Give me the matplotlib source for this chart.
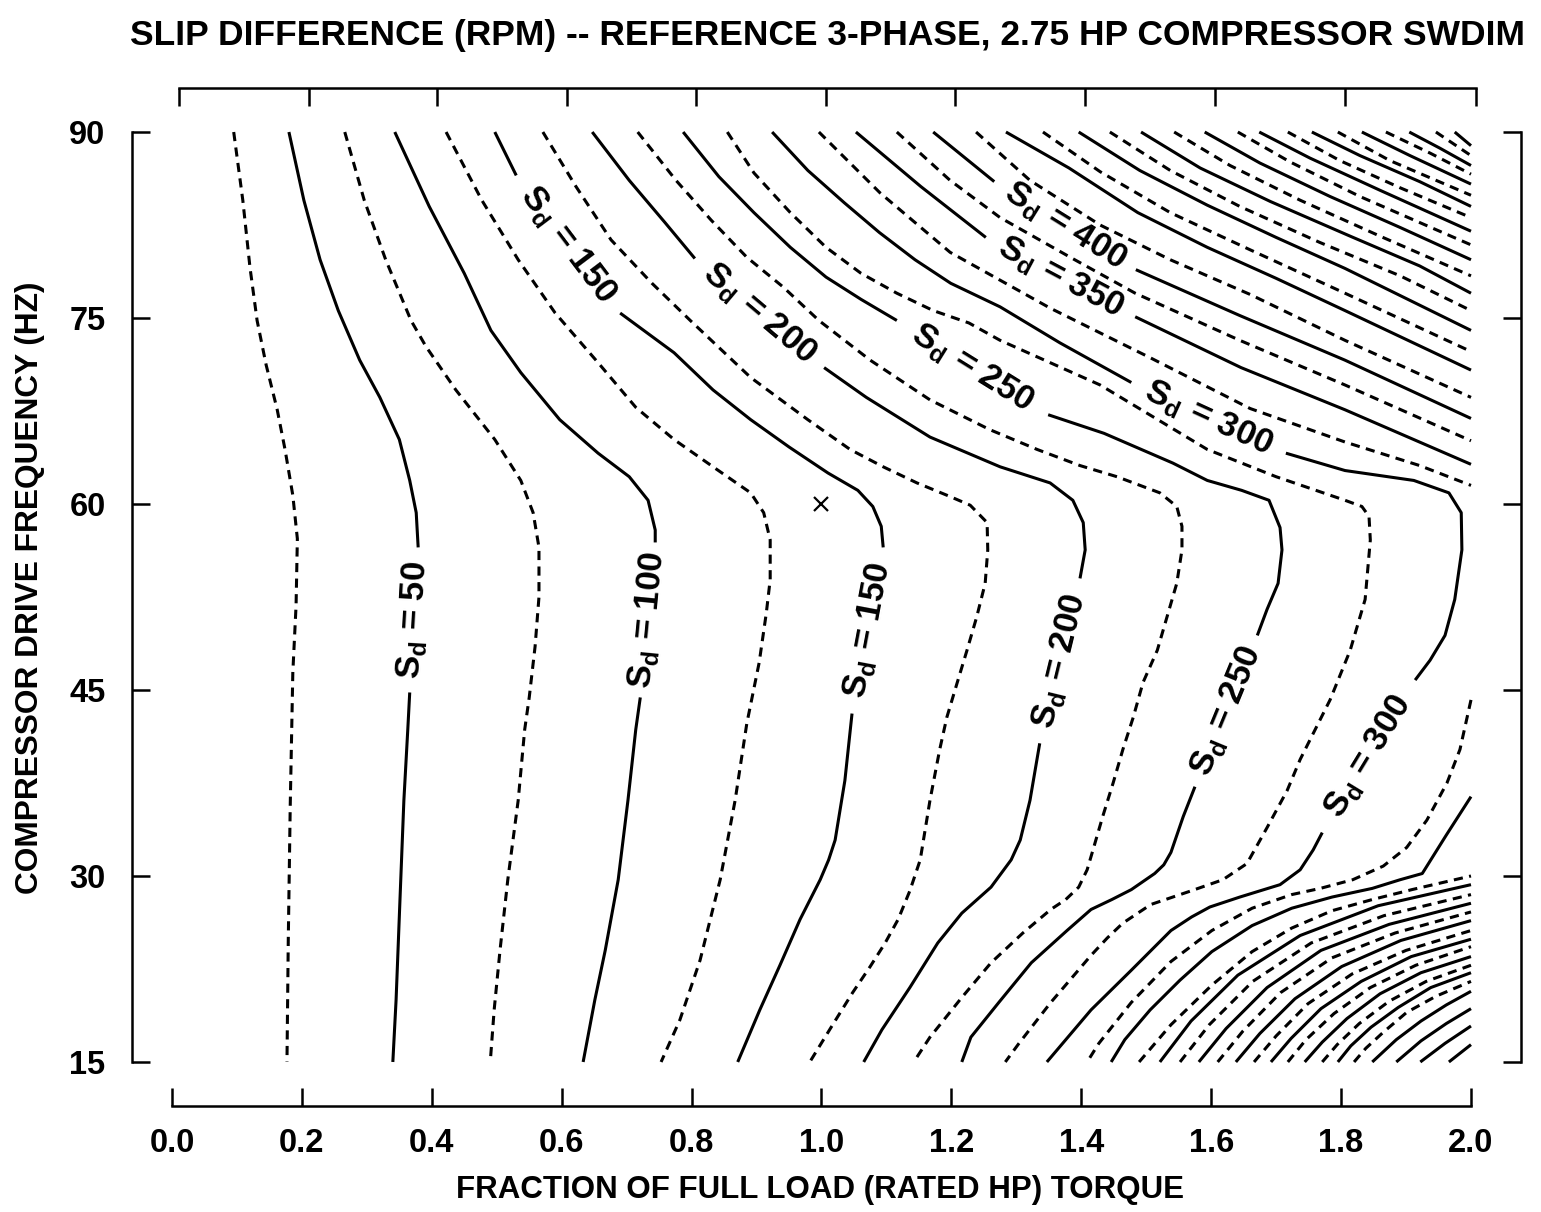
import math
import matplotlib
matplotlib.use("Agg")
import matplotlib.pyplot as plt

FONT = "Liberation Sans"
plt.rcParams["font.family"] = [FONT, "DejaVu Sans"]
plt.rcParams["font.weight"] = "bold"
plt.rcParams["mathtext.fontset"] = "custom"
plt.rcParams["mathtext.rm"] = FONT + ":bold"

TITLE = "SLIP DIFFERENCE (RPM) -- REFERENCE 3-PHASE, 2.75 HP COMPRESSOR SWDIM"
XLABEL = "FRACTION OF FULL LOAD (RATED HP) TORQUE"
YLABEL = "COMPRESSOR DRIVE FREQUENCY (HZ)"

torque_ticks = [0.0, 0.2, 0.4, 0.6, 0.8, 1.0, 1.2, 1.4, 1.6, 1.8, 2.0]
freq_ticks = [15, 30, 45, 60, 75, 90]
top_ticks = [0.011, 0.211, 0.408, 0.608, 0.807, 1.007, 1.206, 1.406, 1.606, 1.806, 2.008]

# operating point (rated torque, 60 Hz)
op_torque = [1.0]
op_freq = [60]

# contour lines: torque fraction / drive frequency (Hz)
t25 = [0.095, 0.109, 0.120, 0.131, 0.145, 0.162, 0.174, 0.186, 0.193, 0.191, 0.186, 0.182, 0.179, 0.177]
f25 = [90, 84.5, 79.1, 74.8, 71.2, 67.6, 64.4, 60.7, 57.2, 51.8, 46.4, 35.6, 24.8, 15]

t50 = [0.180, 0.203, 0.228, 0.256, 0.289, 0.320, 0.350, 0.366, 0.376, 0.379,
       0.366, 0.363, 0.357, 0.351, 0.345, 0.340]
f50 = [90, 84.5, 79.7, 75.6, 71.6, 68.6, 65.2, 61.9, 59.3, 56.5, 44.8, 41.8, 36.1, 28.1, 20.0, 15]

t75 = [0.266, 0.296, 0.329, 0.368, 0.391, 0.437, 0.497, 0.537, 0.556, 0.565, 0.565, 0.559,
       0.550, 0.543, 0.533, 0.517, 0.505, 0.496, 0.490]
f75 = [90, 84.5, 79.7, 74.8, 72.7, 69.2, 65.2, 61.9, 59.3, 56.5, 52.5, 48.5, 44.4, 41.8,
       36.1, 29.7, 24.0, 19.2, 15]

t100 = [0.343, 0.396, 0.450, 0.491, 0.537, 0.597, 0.656, 0.704, 0.733, 0.744, 0.744,
        0.721, 0.714, 0.702, 0.687, 0.667, 0.651, 0.633]
f100 = [90, 84.0, 78.6, 74.0, 70.6, 66.8, 64.1, 62.2, 60.3, 57.9, 56.9,
        44.4, 41.8, 36.1, 29.7, 24.0, 20.0, 15]

t125 = [0.422, 0.477, 0.533, 0.590, 0.656, 0.714, 0.773, 0.833, 0.891, 0.911, 0.921, 0.921,
        0.915, 0.904, 0.885, 0.867, 0.844, 0.813, 0.782, 0.753]
f125 = [90, 84.5, 79.7, 75.4, 71.4, 67.8, 65.2, 63.0, 60.9, 59.3, 57.1, 53.9,
        51.2, 47.2, 42.3, 36.1, 29.7, 23.2, 18.4, 15]

t150 = [0.497, 0.530, 0.690, 0.773, 0.833, 0.891, 0.950, 1.010, 1.056, 1.079, 1.092, 1.095,
        1.047, 1.036, 1.021, 1.011, 0.998, 0.967, 0.936, 0.905, 0.871]
f150 = [90, 86.5, 75.4, 72.2, 69.2, 66.8, 64.6, 62.5, 61.1, 59.8, 58.2, 56.5,
        43.1, 37.7, 32.9, 31.3, 29.7, 26.5, 22.8, 19.2, 15]

t175 = [0.571, 0.622, 0.676, 0.739, 0.798, 0.891, 0.979, 1.044, 1.095, 1.147, 1.198, 1.229,
        1.255, 1.256, 1.252, 1.239, 1.224, 1.209, 1.193, 1.182, 1.167, 1.152, 1.136, 1.118,
        1.098, 1.075, 1.048, 1.016, 0.982]
f175 = [90, 85.6, 81.3, 77.8, 74.8, 70.2, 66.8, 64.4, 63.0, 61.7, 60.6, 59.9,
        58.5, 56.3, 53.6, 50.9, 48.2, 45.6, 42.8, 40.2, 36.1, 31.3, 28.8, 26.5,
        24.6, 22.7, 20.6, 17.9, 15]

t200 = [0.647, 0.704, 0.759, 0.805, 1.004, 1.069, 1.167, 1.275, 1.352, 1.387, 1.403, 1.406,
        1.398, 1.336, 1.321, 1.306, 1.292, 1.261, 1.216, 1.179, 1.136, 1.093, 1.065]
f200 = [90, 86.1, 82.7, 79.8, 71.0, 68.6, 65.4, 63.0, 61.7, 60.3, 58.5, 56.3,
        54.0, 40.7, 36.1, 32.9, 31.3, 29.1, 27.0, 24.6, 21.0, 17.6, 15]

t225 = [0.717, 0.776, 0.830, 0.885, 0.941, 0.996, 1.075, 1.167, 1.259, 1.332, 1.398, 1.455,
        1.521, 1.547, 1.555, 1.555, 1.547, 1.532, 1.517, 1.495, 1.480, 1.464, 1.449, 1.433,
        1.418, 1.409, 1.396, 1.376, 1.353, 1.310, 1.261, 1.216, 1.167, 1.142]
f225 = [90, 86.1, 82.9, 79.9, 77.5, 74.8, 71.6, 68.4, 66.0, 64.4, 63.1, 62.2,
        60.9, 59.8, 58.2, 56.3, 53.6, 50.9, 48.2, 45.6, 42.8, 40.2, 37.5, 34.8,
        32.1, 30.5, 29.1, 28.1, 27.3, 25.4, 23.0, 20.2, 17.0, 15]

t250 = [0.787, 0.842, 0.896, 0.952, 1.007, 1.061, 1.116, 1.349, 1.435, 1.541, 1.594, 1.647,
        1.689, 1.706, 1.709, 1.703, 1.686, 1.671, 1.575, 1.557, 1.538, 1.527, 1.513, 1.477,
        1.447, 1.415, 1.378, 1.323, 1.273, 1.230, 1.216]
f250 = [90, 86.4, 83.5, 80.7, 78.3, 76.5, 74.8, 67.2, 65.7, 63.3, 61.9, 61.1,
        60.3, 58.1, 56.3, 53.6, 51.5, 49.4, 37.2, 34.8, 31.9, 30.9, 30.2, 28.9,
        28.1, 27.3, 25.6, 23.0, 19.8, 17.0, 15]

t275 = [0.855, 0.896, 0.952, 1.007, 1.061, 1.116, 1.172, 1.227, 1.275, 1.429, 1.594, 1.700,
        1.806, 1.832, 1.843, 1.845, 1.837, 1.814, 1.783, 1.737, 1.717, 1.686, 1.655, 1.618,
        1.569, 1.507, 1.464, 1.440, 1.415, 1.353, 1.304, 1.283]
f275 = [90, 86.7, 83.5, 80.7, 78.6, 77.0, 75.6, 74.6, 73.2, 69.6, 64.4, 62.2,
        60.3, 59.8, 59.0, 57.1, 52.3, 48.2, 44.2, 39.4, 36.9, 33.9, 31.0, 29.7,
        28.8, 27.7, 26.2, 25.0, 23.6, 19.8, 16.5, 15]

t300 = [0.924, 0.979, 1.035, 1.089, 1.144, 1.199, 1.275, 1.367, 1.477, 1.715, 1.806, 1.912,
        1.966, 1.985, 1.986, 1.975, 1.960, 1.937, 1.914, 1.771, 1.757, 1.737, 1.706, 1.675,
        1.644, 1.598, 1.570, 1.538, 1.477, 1.415, 1.347]
f300 = [90, 86.9, 84.3, 81.9, 79.7, 77.8, 75.9, 73.0, 69.8, 64.1, 62.7, 61.9,
        60.9, 59.3, 56.3, 52.3, 49.4, 47.4, 45.8, 33.5, 32.1, 30.5, 29.3, 28.8,
        28.3, 27.5, 26.7, 25.6, 22.4, 19.2, 15]

# upper right family: from the top edge to the right edge
upper_levels = [325, 350, 375, 400, 425, 450, 475, 500, 525, 550, 575,
                600, 625, 650, 675, 700, 725, 750, 775, 800, 825, 850]
upper_torque = [
    [0.996, 1.090, 1.198, 1.352, 1.506, 1.660, 1.806, 1.921, 2.0],
    [1.053, 1.153, 1.253, 1.483, 1.646, 1.806, 2.0],
    [1.116, 1.198, 1.275, 1.383, 1.483, 1.644, 1.806, 2.0],
    [1.172, 1.266, 1.484, 1.644, 1.806, 2.0],
    [1.238, 1.321, 1.429, 1.537, 1.660, 1.806, 2.0],
    [1.284, 1.381, 1.487, 1.594, 1.700, 1.806, 2.0],
    [1.341, 1.429, 1.537, 1.660, 1.806, 2.0],
    [1.396, 1.490, 1.594, 1.700, 1.806, 2.0],
    [1.444, 1.537, 1.644, 1.767, 1.891, 2.0],
    [1.492, 1.583, 1.691, 1.814, 1.921, 2.0],
    [1.543, 1.629, 1.737, 1.860, 2.0],
    [1.590, 1.675, 1.783, 1.891, 2.0],
    [1.641, 1.721, 1.829, 1.921, 2.0],
    [1.674, 1.752, 1.860, 2.0],
    [1.718, 1.798, 1.891, 2.0],
    [1.755, 1.829, 1.921, 2.0],
    [1.795, 1.875, 2.0],
    [1.832, 1.906, 2.0],
    [1.869, 1.937, 2.0],
    [1.905, 1.952, 2.0],
    [1.946, 2.0],
    [1.975, 2.0],
]
upper_freq = [
    [90, 85.1, 80.3, 75.8, 71.8, 67.7, 65.0, 63.1, 61.5],
    [90, 85.6, 81.5, 75.1, 71.0, 67.6, 63.2],
    [90, 86.1, 83.1, 79.9, 77.0, 73.2, 69.6, 65.1],
    [90, 86.0, 78.9, 75.2, 71.6, 66.9],
    [90, 86.1, 82.5, 79.7, 76.9, 73.2, 68.6],
    [90, 87.1, 83.5, 80.7, 78.2, 75.6, 70.8],
    [90, 86.8, 83.5, 80.5, 77.0, 72.3],
    [90, 86.9, 84.1, 81.5, 79.0, 74.0],
    [90, 86.9, 84.0, 81.1, 78.4, 75.6],
    [90, 87.1, 84.4, 81.6, 79.2, 77.0],
    [90, 87.3, 84.5, 81.6, 78.4],
    [90, 87.5, 84.8, 82.3, 79.7],
    [90, 87.6, 84.8, 82.7, 80.9],
    [90, 87.9, 85.3, 82.0],
    [90, 87.7, 85.5, 83.1],
    [90, 88.1, 86.0, 84.0],
    [90, 87.7, 84.9],
    [90, 88.1, 85.8],
    [90, 88.3, 86.6],
    [90, 88.7, 87.3],
    [90, 88.1],
    [90, 88.9],
]
upper_label_after = {350: [2], 400: [1]}

# lower right family: from the bottom edge to the right edge
lower_levels = [325, 350, 375, 400, 425, 450, 475, 500, 525, 550, 575,
                600, 625, 650, 675, 700, 750, 800, 850]
lower_torque = [
    [2.0, 1.983, 1.963, 1.932, 1.901, 1.865, 1.818, 1.768, 1.724, 1.663, 1.601, 1.538, 1.477, 1.427, 1.409],
    [2.0, 1.962, 1.925, 1.891, 1.848, 1.786, 1.724, 1.663, 1.601, 1.552, 1.506, 1.467, 1.446],
    [1.489, 1.538, 1.601, 1.663, 1.724, 1.786, 1.848, 1.909, 2.0],
    [1.521, 1.569, 1.641, 1.737, 1.857, 2.0],
    [1.552, 1.597, 1.664, 1.754, 1.866, 2.0],
    [1.581, 1.623, 1.686, 1.769, 1.874, 2.0],
    [1.610, 1.649, 1.707, 1.786, 1.883, 2.0],
    [1.638, 1.675, 1.729, 1.801, 1.892, 2.0],
    [1.666, 1.700, 1.749, 1.817, 1.900, 2.0],
    [1.692, 1.723, 1.769, 1.831, 1.908, 2.0],
    [1.718, 1.746, 1.789, 1.845, 1.915, 2.0],
    [1.744, 1.771, 1.809, 1.860, 1.923, 2.0],
    [1.771, 1.794, 1.828, 1.874, 1.931, 2.0],
    [1.795, 1.815, 1.846, 1.888, 1.938, 2.0],
    [1.820, 1.838, 1.865, 1.901, 1.946, 2.0],
    [1.848, 1.885, 1.923, 1.962, 2.0],
    [1.885, 1.923, 1.962, 2.0],
    [1.922, 1.960, 2.0],
    [1.966, 2.0],
]
lower_freq = [
    [44.2, 40.2, 37.5, 34.5, 32.3, 30.8, 29.7, 29.0, 28.5, 27.4, 25.6, 23.1, 19.8, 16.5, 15],
    [36.4, 33.3, 30.2, 29.7, 29.0, 28.3, 27.4, 26.0, 23.9, 21.6, 19.2, 16.8, 15],
    [15, 18.0, 21.2, 23.9, 25.8, 27.2, 28.1, 28.9, 30.0],
    [15, 18.3, 22.0, 25.2, 27.6, 29.3],
    [15, 18.0, 21.5, 24.6, 26.8, 28.5],
    [15, 17.7, 21.0, 24.0, 26.1, 27.8],
    [15, 17.5, 20.6, 23.4, 25.4, 27.1],
    [15, 17.3, 20.1, 22.7, 24.8, 26.4],
    [15, 17.1, 19.7, 22.1, 24.0, 25.6],
    [15, 16.9, 19.3, 21.5, 23.5, 24.9],
    [15, 16.8, 18.9, 21.0, 22.8, 24.3],
    [15, 16.6, 18.5, 20.5, 22.2, 23.5],
    [15, 16.4, 18.1, 19.9, 21.5, 22.8],
    [15, 16.3, 17.8, 19.4, 21.0, 22.2],
    [15, 16.1, 17.4, 19.0, 20.3, 21.5],
    [15, 16.8, 18.3, 19.6, 20.7],
    [15, 16.7, 18.1, 19.3],
    [15, 16.5, 17.9],
    [15, 16.4],
]

LW = 2.2
DASH = (0, (3.0, 2.1))


def draw_line(ax, t, f, level, label_after):
    style = "-" if level % 50 == 0 else DASH
    cuts = [0] + [i + 1 for i in label_after] + [len(t)]
    for a, b in zip(cuts[:-1], cuts[1:]):
        ax.plot(t[a:b], f[a:b], color="black", linewidth=LW, linestyle=style,
                solid_joinstyle="round", solid_capstyle="butt")
    for i in label_after:
        p0 = ax.transData.transform((t[i], f[i]))
        p1 = ax.transData.transform((t[i + 1], f[i + 1]))
        ang = math.degrees(math.atan2(p1[1] - p0[1], p1[0] - p0[0]))
        if ang > 90:
            ang -= 180
        elif ang < -90:
            ang += 180
        ax.text((t[i] + t[i + 1]) / 2, (f[i] + f[i + 1]) / 2,
                r"S$_\mathregular{d}$ = %d" % level, fontsize=25,
                rotation=ang, rotation_mode="anchor", ha="center", va="center")


def main():
    fig = plt.figure(figsize=(15.41, 12.12), dpi=100)
    ax = fig.add_axes([0.08566, 0.08746, 0.90136, 0.83993])
    ax.set_xlim(-0.0616, 2.077)
    ax.set_ylim(11.45, 93.55)

    main_lines = [
        (25, t25, f25, []), (50, t50, f50, [9]), (75, t75, f75, []),
        (100, t100, f100, [10]), (125, t125, f125, []), (150, t150, f150, [1, 11]),
        (175, t175, f175, []), (200, t200, f200, [3, 12]), (225, t225, f225, []),
        (250, t250, f250, [6, 17]), (275, t275, f275, []), (300, t300, f300, [8, 18]),
    ]
    for level, t, f, gaps in main_lines:
        draw_line(ax, t, f, level, gaps)
    for level, t, f in zip(upper_levels, upper_torque, upper_freq):
        draw_line(ax, t, f, level, upper_label_after.get(level, []))
    for level, t, f in zip(lower_levels, lower_torque, lower_freq):
        draw_line(ax, t, f, level, [])

    ax.plot(op_torque, op_freq, linestyle="none", marker="x", markersize=10,
            markeredgewidth=1.6, color="black")

    # axis frame: offset spines as on the plotter chart
    for s in ["left", "right", "bottom"]:
        ax.spines[s].set_linewidth(1.8)
    ax.spines["top"].set_visible(False)
    ax.spines["left"].set_bounds(15, 90)
    ax.spines["right"].set_bounds(15, 90)
    ax.spines["bottom"].set_bounds(0, 2)

    ax.set_xticks(torque_ticks)
    ax.set_xticklabels(["%.1f" % v for v in torque_ticks])
    ax.set_yticks(freq_ticks)
    ax.tick_params(axis="both", direction="in", length=13, width=1.8, labelsize=23.5)
    ax.tick_params(axis="x", pad=16)
    ax.tick_params(axis="y", right=True, labelright=False, pad=19)

    sec = ax.secondary_xaxis("top")
    sec.set_xticks(top_ticks)
    sec.tick_params(direction="in", length=13, width=1.8, labeltop=False)
    sec.spines["top"].set_bounds(top_ticks[0], top_ticks[-1])
    sec.spines["top"].set_linewidth(1.8)

    fig.text(0.537, 0.971, TITLE, ha="center", va="center", fontsize=25.5)
    fig.text(0.532, 0.018, XLABEL, ha="center", va="center", fontsize=22.5)
    fig.text(0.0195, 0.515, YLABEL, ha="center", va="center", rotation=90, fontsize=22.8)

    fig.savefig("out.png", dpi=100)


if __name__ == "__main__":
    main()
